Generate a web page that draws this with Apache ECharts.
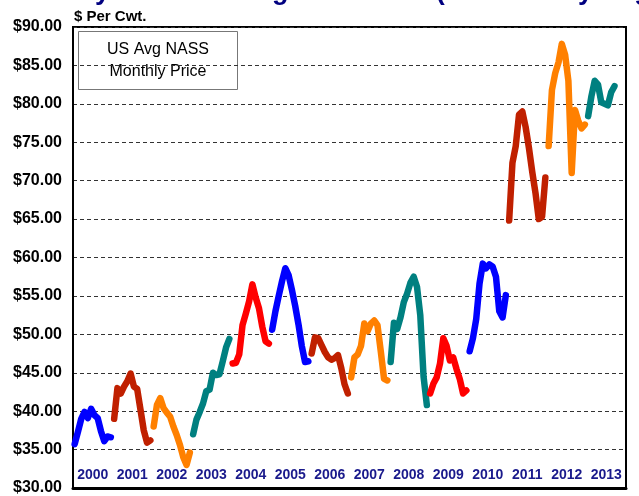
<!DOCTYPE html>
<html>
<head>
<meta charset="utf-8">
<script src="https://cdn.jsdelivr.net/npm/echarts@6/dist/echarts.min.js"></script>
<style>
  html, body { margin: 0; padding: 0; background: #fff; }
  #chart { width: 639px; height: 496px; }
</style>
</head>
<body>
<div id="chart"></div>
<script>
  // year labels along the bottom
  var years = ['2000','2001','2002','2003','2004','2005','2006','2007','2008','2009','2010','2011','2012','2013'];

  // monthly prices, $ per cwt
  var p2000 = [35.7, 37.3, 39.0, 39.9, 39.1, 40.3, 39.5, 39.1, 37.4, 36.1, 36.7, 36.6];
  var p2001 = [39.0, 43.0, 42.3, 43.2, 43.9, 44.9, 43.2, 42.9, 40.2, 37.5, 35.9, 36.2];
  var p2002 = [38.0, 40.8, 41.7, 40.4, 39.8, 39.3, 38.0, 36.9, 35.6, 34.0, 33.0, 34.6];
  var p2003 = [37.0, 38.9, 39.9, 41.0, 42.6, 42.8, 45.0, 44.7, 44.8, 46.5, 48.3, 49.4];
  var p2004 = [46.2, 46.3, 47.4, 51.2, 52.7, 54.3, 56.5, 54.8, 53.4, 51.0, 49.1, 48.8];
  var p2005 = [50.6, 53.0, 55.0, 56.9, 58.6, 57.7, 55.8, 53.7, 51.3, 48.5, 46.4, 46.5];
  var p2006 = [47.5, 49.6, 49.5, 48.6, 47.7, 47.0, 46.7, 46.9, 47.3, 45.6, 43.5, 42.3];
  var p2007 = [44.4, 47.0, 47.4, 48.5, 51.4, 50.4, 51.4, 51.8, 51.2, 47.8, 44.2, 44.0];
  var p2008 = [46.4, 51.5, 50.7, 52.2, 54.2, 55.3, 56.7, 57.5, 56.2, 52.5, 44.5, 40.8];
  var p2009 = [42.3, 43.6, 44.4, 46.2, 49.5, 48.5, 46.6, 47.0, 45.5, 44.2, 42.3, 42.7];
  var p2010 = [47.8, 49.5, 52.0, 56.6, 59.2, 58.6, 59.1, 58.8, 57.5, 53.0, 52.2, 55.1];
  var p2011 = [64.8, 72.3, 74.5, 78.6, 79.0, 77.0, 74.3, 71.2, 68.4, 65.0, 65.3, 70.4];
  var p2012 = [74.5, 81.8, 84.0, 85.4, 87.8, 86.4, 83.0, 71.0, 79.2, 77.8, 76.8, 77.3];
  var p2013 = [78.4, 81.0, 83.0, 82.5, 80.2, 80.0, 79.8, 81.5, 82.3];

  var prices = [p2000, p2001, p2002, p2003, p2004, p2005, p2006, p2007, p2008, p2009, p2010, p2011, p2012, p2013];
  var colors = ['#0000FF', '#C02000', '#FF8000', '#008080', '#FF0000'];

  var myChart = echarts.init(document.getElementById('chart'));

  var series = [];
  for (var i = 0; i < years.length; i++) {
    var pts = [];
    for (var m = 0; m < prices[i].length; m++) {
      pts.push([i * 12 + m + 0.5, prices[i][m]]);
    }
    series.push({
      name: years[i],
      type: 'line',
      xAxisIndex: 0,
      data: pts,
      symbol: 'none',
      lineStyle: { width: 6.5, color: colors[i % 5], cap: 'round', join: 'round' },
      silent: true,
      animation: false
    });
  }

  var option = {
    animation: false,
    grid: {
      left: 73, right: 13, top: 27, bottom: 6,
      show: true, borderColor: '#000', borderWidth: 2
    },
    xAxis: [
      {
        type: 'value', min: 0, max: 168,
        axisLine: { show: true, lineStyle: { color: '#000', width: 3 } },
        axisTick: { show: false },
        axisLabel: { show: false },
        splitLine: { show: false }
      },
      {
        type: 'category', position: 'bottom',
        data: years,
        axisLine: { show: false },
        axisTick: { show: false },
        axisLabel: {
          inside: true, margin: 6, interval: 0,
          color: '#1A1A8C', fontFamily: 'Arial, Liberation Sans', fontWeight: 'bold', fontSize: 14
        },
        splitLine: { show: false }
      }
    ],
    yAxis: {
      type: 'value', min: 30, max: 90, interval: 5,
      axisLine: { show: true, lineStyle: { color: '#000', width: 2 } },
      axisTick: { show: false },
      axisLabel: {
        margin: 11,
        color: '#000', fontFamily: 'Arial, Liberation Sans', fontWeight: 'bold', fontSize: 16,
        formatter: function (v) { return '$' + v.toFixed(2); }
      },
      splitLine: { show: true, lineStyle: { color: '#333', type: [4, 3], width: 1 } }
    },
    graphic: [
      {
        type: 'text', left: -40, top: -22,
        style: {
          text: 'Seasonality of Cow Slaughter Prices (US Monthly Avg)',
          fill: '#000080', font: 'bold 27px Arial, Liberation Sans'
        }
      },
      {
        type: 'text', left: 74, top: 9,
        style: { text: '$ Per Cwt.', fill: '#000', font: 'bold 15px Arial, Liberation Sans' }
      },
      {
        type: 'rect', shape: { x: 78.5, y: 31.5, width: 159, height: 58 },
        style: { fill: '#fff', stroke: '#777', lineWidth: 1 }
      },
      {
        type: 'text', x: 158, y: 61,
        style: {
          text: 'US Avg NASS\nMonthly Price', fill: '#000',
          font: '16px Arial, Liberation Sans', align: 'center', verticalAlign: 'middle', lineHeight: 22
        }
      }
    ],
    series: series
  };

  myChart.setOption(option);
</script>
</body>
</html>
